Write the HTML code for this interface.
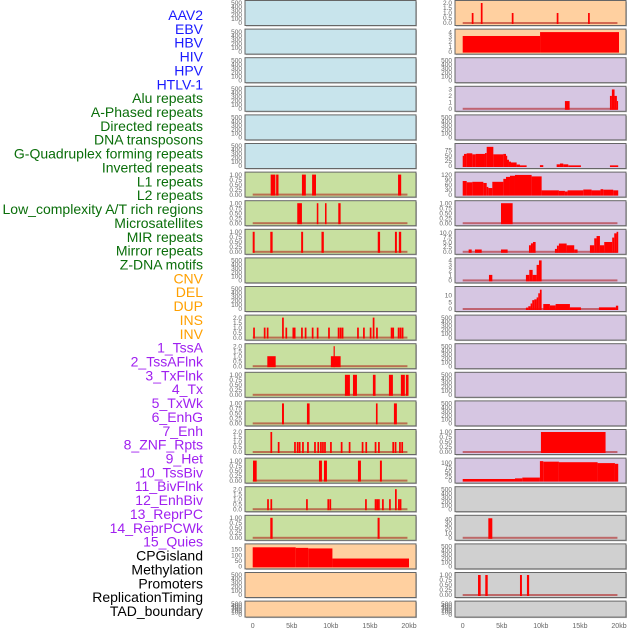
<!DOCTYPE html>
<html><head><meta charset="utf-8"><style>
html,body{margin:0;padding:0;background:#fff;}
svg{display:block;font-family:"Liberation Sans",sans-serif;}
</style></head><body>
<svg id="chart" width="630" height="630" viewBox="0 0 630 630" xmlns="http://www.w3.org/2000/svg">
<g id="labels"></g>
<g id="panels"></g>
<g id="xaxis"></g>
</svg>
<script>
// ---------- data ----------
const trackLabels = ["AAV2","EBV","HBV","HIV","HPV","HTLV-1","Alu repeats","A-Phased repeats","Directed repeats","DNA transposons","G-Quadruplex forming repeats","Inverted repeats","L1 repeats","L2 repeats","Low_complexity A/T rich regions","Microsatellites","MIR repeats","Mirror repeats","Z-DNA motifs","CNV","DEL","DUP","INS","INV","1_TssA","2_TssAFlnk","3_TxFlnk","4_Tx","5_TxWk","6_EnhG","7_Enh","8_ZNF_Rpts","9_Het","10_TssBiv","11_BivFlnk","12_EnhBiv","13_ReprPC","14_ReprPCWk","15_Quies","CPGisland","Methylation","Promoters","ReplicationTiming","TAD_boundary"];
const xTickValues = [0,5,10,15,20];
const xTickLabels = ["0","5kb","10kb","15kb","20kb"];
const emptyTicks = [0,100,200,300,400,500];
const emptyTickLabels = ["0","100","200","300","400","500"];
const ticks01 = [0,0.25,0.5,0.75,1];
const ticks01Labels = ["0.00","0.25","0.50","0.75","1.00"];
const ticks02 = [0,0.5,1,1.5,2];
const ticks02Labels = ["0.0","0.5","1.0","1.5","2.0"];

// intervals: [startKb, endKb, value]
const aluBars = [[2.3,2.9,1],[3.0,3.3,1],[6.3,6.8,1],[7.6,8.1,1],[18.6,19.0,1]];
const aPhasedBars = [[5.7,6.3,1],[8.2,8.4,1],[9.25,9.45,1],[10.95,11.25,1]];
const directedBars = [[0,0.25,1],[2.25,2.55,1],[6.2,6.45,1],[8.8,9.1,1],[16.0,16.3,1],[18.2,18.45,1],[18.7,19.0,1]];
const invertedPos = [0.17,1.53,1.91,3.87,4.30,5.20,5.37,6.30,6.77,7.67,8.31,9.76,10.99,11.25,11.5,13.47,14.23,15.09,15.47,15.9,17.77,17.98,18.67,18.92,19.18];
const invertedVals = [1,1,1,2,1,1,1,1,1,1,1,1,1,1,1,1,1,1,2,1,1,1,1,1,1];
const l1Bars = [[1.87,2.94,1],[10.0,11.25,1],[10.35,10.48,2]];
const l2Bars = [[11.8,12.44,1],[12.83,13.34,1],[15.38,15.72,1],[17.43,17.94,1],[18.96,19.47,1],[19.6,19.94,1]];
const lowCxBars = [[3.75,4.0,1],[6.94,7.28,1],[15.77,15.98,1],[18.07,18.45,1]];
const microPos = [2.38,3.32,5.41,5.75,6.01,6.43,7.07,7.97,8.39,8.73,8.99,9.25,10.01,11.38,12.40,14.06,14.53,15.72,16.15,17.98,18.28,18.84,19.13];
const microVals = [2,1,1,1,1,1,1,1,1,1,1,1,1,1,1,1,1,1,1,1,1,1,1];
const mirBars = [[0.04,0.51,1],[8.48,8.86,1],[9.12,9.5,1],[13.47,13.85,1],[16.28,16.53,1]];
const mirrorPos = [1.96,2.38,6.94,9.67,9.93,14.49,15.72,15.94,16.15,16.66,17.56,18.32,18.71,18.92];
const mirrorVals = [1,1,1,1,1,1,1,1,1,1,1,2,1,1];
const zdnaBars = [[2.25,2.55,1],[15.98,16.24,1]];
const cnvSteps = [[0,5.5,170],[5.5,7.1,165],[7.1,10.2,160],[10.2,20,70]];

const insPos = [1.27,2.43,6.39,12.14,16.15];
const insVals = [1,2,1,1,1];
const invSteps = [[0,9.9,3.2],[9.9,20,4.0]];
const tssAFlnkSteps = [[13.08,13.68,1.2],[18.84,19.09,2],[19.09,19.43,3],[19.43,19.73,2],[19.73,19.86,1.2]];
const txSteps = [[0,0.17,49],[0.17,0.51,58],[0.51,1.23,61],[1.23,1.66,56],[1.66,2.85,58],[2.85,3.07,62],[3.07,3.92,92],[3.92,5.2,56],[5.2,5.54,58],[5.54,5.66,49],[5.66,5.92,30],[5.92,6.18,21],[6.18,6.9,17],[6.9,7.33,7],[7.33,8.18,3],[9.88,10.31,4],[12.02,12.44,8],[12.44,12.87,12],[12.87,13.51,8],[13.51,15.13,3],[18.84,19.9,3]];
const txWkSteps = [[0,0.51,83],[0.51,1.23,75],[1.23,2.64,78],[2.64,3.07,71],[3.07,3.28,47],[3.28,3.79,40],[3.79,5.2,78],[5.2,5.54,96],[5.54,6.05,108],[6.05,6.69,115],[6.69,8.82,120],[8.82,10.1,111],[10.1,12.31,26],[12.31,13.08,23],[13.08,13.42,19],[13.42,15.43,26],[15.43,16.49,31],[16.49,17.64,26],[17.64,17.98,33],[17.98,19.26,30],[19.26,19.9,26]];
const enhGBars = [[4.9,6.39,1]];
const enhSteps = [[0.76,1.15,1.2],[1.57,2.43,1.2],[4.9,5.75,1.2],[8.48,8.73,3.4],[8.73,8.99,4.4],[8.99,9.33,5.1],[11.8,12.06,1.5],[12.06,12.31,3.2],[12.31,13.3,4.3],[13.3,14.27,3.4],[14.27,14.7,1.2],[16.28,16.83,3.4],[16.83,17.13,7],[17.13,17.56,8.2],[17.56,18.11,3.4],[18.11,19.13,5.1],[19.13,19.39,7.4],[19.39,19.69,9.6],[19.69,19.9,10.4]];
const znfSteps = [[3.36,3.79,1.1],[8.09,8.52,1.1],[8.52,8.95,2.1],[8.95,9.46,1.1],[9.46,9.76,3.1],[9.76,10.1,4]];
const hetSteps = [[8.09,8.39,1],[8.39,8.69,2],[8.69,8.9,4],[8.9,9.16,6.4],[9.16,9.46,7],[9.46,9.67,8.4],[9.67,9.88,11.4],[9.88,10.1,14],[10.31,11.16,3.6],[11.16,11.89,2.6],[11.89,13.72,3.6],[13.72,15.13,1.2],[17.43,19.6,1.2],[19.6,19.9,2.4]];
const reprPCWkBars = [[10.01,18.28,1]];
const quiesSteps = [[0,6.69,9],[6.69,7.63,12.5],[7.63,9.88,17],[9.88,10.31,109],[10.31,12.31,106],[12.31,17.26,103],[17.26,19.48,98],[19.48,19.9,94]];
const methylBars = [[3.28,3.79,42]];
const replBars = [[1.96,2.3,1],[2.89,3.2,1],[7.33,7.58,1],[8.22,8.5,1]];

// ---------- layout ----------
const COLORS = {blue:"#c8e4ec",green:"#c8e0a0",orange:"#ffd0a0",purple:"#d6c6e2",gray:"#d0d0d0"};
const LBL_COLORS = {blue:"#1a1aff",green:"#0a6e0a",orange:"#ffa000",purple:"#a020f0",black:"#000"};
function posBars(pos, vals, w){ return pos.map((p,i)=>[p-w/2,p+w/2,vals[i]]); }
const E = null;
const leftPanels = [
 ["blue",E],["blue",E],["blue",E],["blue",E],["blue",E],["blue",E],
 ["green",aluBars,1,ticks01,ticks01Labels,true],
 ["green",aPhasedBars,1,ticks01,ticks01Labels,true],
 ["green",directedBars,1,ticks01,ticks01Labels,true],
 ["green",E],["green",E],
 ["green",posBars(invertedPos,invertedVals,0.22),2,ticks02,ticks02Labels,true],
 ["green",l1Bars,2,ticks02,ticks02Labels,true],
 ["green",l2Bars,1,ticks01,ticks01Labels,true],
 ["green",lowCxBars,1,ticks01,ticks01Labels,true],
 ["green",posBars(microPos,microVals,0.22),2,ticks02,ticks02Labels,true],
 ["green",mirBars,1,ticks01,ticks01Labels,true],
 ["green",posBars(mirrorPos,mirrorVals,0.22),2,ticks02,ticks02Labels,true],
 ["green",zdnaBars,1,ticks01,ticks01Labels,true],
 ["orange",cnvSteps,178,[0,50,100,150],["0","50","100","150"],false],
 ["orange",E],["orange",E]
];
const rightPanels = [
 ["orange",posBars(insPos,insVals,0.22),2,ticks02,ticks02Labels,true],
 ["orange",invSteps,4.1,[0,1,2,3,4],["0","1","2","3","4"],false],
 ["purple",E],
 ["purple",tssAFlnkSteps,3.1,[0,1,2,3],["0","1","2","3"],true],
 ["purple",E],
 ["purple",txSteps,96,[0,25,50,75],["0","25","50","75"],false],
 ["purple",txWkSteps,122,[0,30,60,90,120],["0","30","60","90","120"],false],
 ["purple",enhGBars,1,ticks01,ticks01Labels,true],
 ["purple",enhSteps,10.4,[0,2.5,5,7.5,10],["0.0","2.5","5.0","7.5","10.0"],true],
 ["purple",znfSteps,4,[0,1,2,3,4],["0","1","2","3","4"],true],
 ["purple",hetSteps,14.5,[0,5,10],["0","5","10"],true],
 ["purple",E],["purple",E],["purple",E],["purple",E],
 ["purple",reprPCWkBars,1,ticks01,ticks01Labels,true],
 ["purple",quiesSteps,112,[0,25,50,75,100],["0","25","50","75","100"],false],
 ["gray",E],
 ["gray",methylBars,43,[0,10,20,30,40],["0","10","20","30","40"],true],
 ["gray",E],
 ["gray",replBars,1,ticks01,ticks01Labels,true],
 ["gray",E]
];

const NS="http://www.w3.org/2000/svg";
function mk(tag, attrs, parent){ const e=document.createElementNS(NS,tag); for(const k in attrs) e.setAttribute(k,attrs[k]); parent.appendChild(e); return e; }

// labels
const lblG=document.getElementById('labels');
trackLabels.forEach((t,i)=>{
  let c = i<6?"blue":i<19?"green":i<24?"orange":i<39?"purple":"black";
  const el=mk('text',{x:203,y:20+i*13.86,'text-anchor':'end','font-size':'14',fill:LBL_COLORS[c]},lblG);
  el.textContent=t;
  
  
});

const panG=document.getElementById('panels');
function drawColumn(panels, px0, colName){
  const pw=171, x0=px0+7.7, x1=px0+164; // 0kb..20kb
  const xs = kb => x0 + (x1-x0)*kb/20;
  panels.forEach((p,i)=>{
    const top=0.5+i*28.6, h = i===21?16:25;
    const g=mk('g',{},panG);
    
    
    mk('rect',{x:px0+1,y:top+1,width:pw,height:h,fill:'#bbb'},g);
    mk('rect',{x:px0,y:top,width:pw,height:h,fill:COLORS[p[0]],stroke:'#666','stroke-width':1},g);
    const yb=top+h-2.5, yt=top+2.5;
    let ticks, tl, ymax;
    if(!p[1]){ ticks=emptyTicks; tl=emptyTickLabels; ymax=500; }
    else { ymax=p[2]; ticks=p[3]; tl=p[4]; }
    const ys = v => yb - (yb-yt)*v/ymax;
    ticks.forEach((t,k)=>{
      const te=mk('text',{x:px0-3,y:ys(t)+2.2,'text-anchor':'end','font-size':'6.5',fill:'#666'},g);
      te.textContent=tl[k];
      
      
    });
    if(p[1]){
      const cid='clip-'+colName+i;
      const cp=mk('clipPath',{id:cid},g); mk('rect',{x:px0,y:top,width:pw,height:h},cp);
      const bg=mk('g',{'clip-path':'url(#'+cid+')'},g);
      if(p[5]){
        const bl=mk('rect',{x:xs(0),y:yb-1,width:xs(19.8)-xs(0),height:2,fill:'rgba(170,0,0,0.5)'},bg);
        
        
      }
      p[1].forEach(d=>{
        const w=Math.max(1.2,xs(d[1])-xs(d[0]));
        const r=mk('rect',{x:xs(d[0]),y:ys(d[2]),width:w,height:yb-ys(d[2])+1,fill:'#ff0000'},bg);
        
        
      });
    }
  });
  const xg=document.getElementById('xaxis');
  xTickValues.forEach((v,k)=>{
    const te=mk('text',{x:xs(v),y:628,'text-anchor':'middle','font-size':'7',fill:'#666'},xg);
    te.textContent=xTickLabels[k];
    
    
  });
}
drawColumn(leftPanels,245,'left');
drawColumn(rightPanels,455,'right');
</script>
</body></html>
